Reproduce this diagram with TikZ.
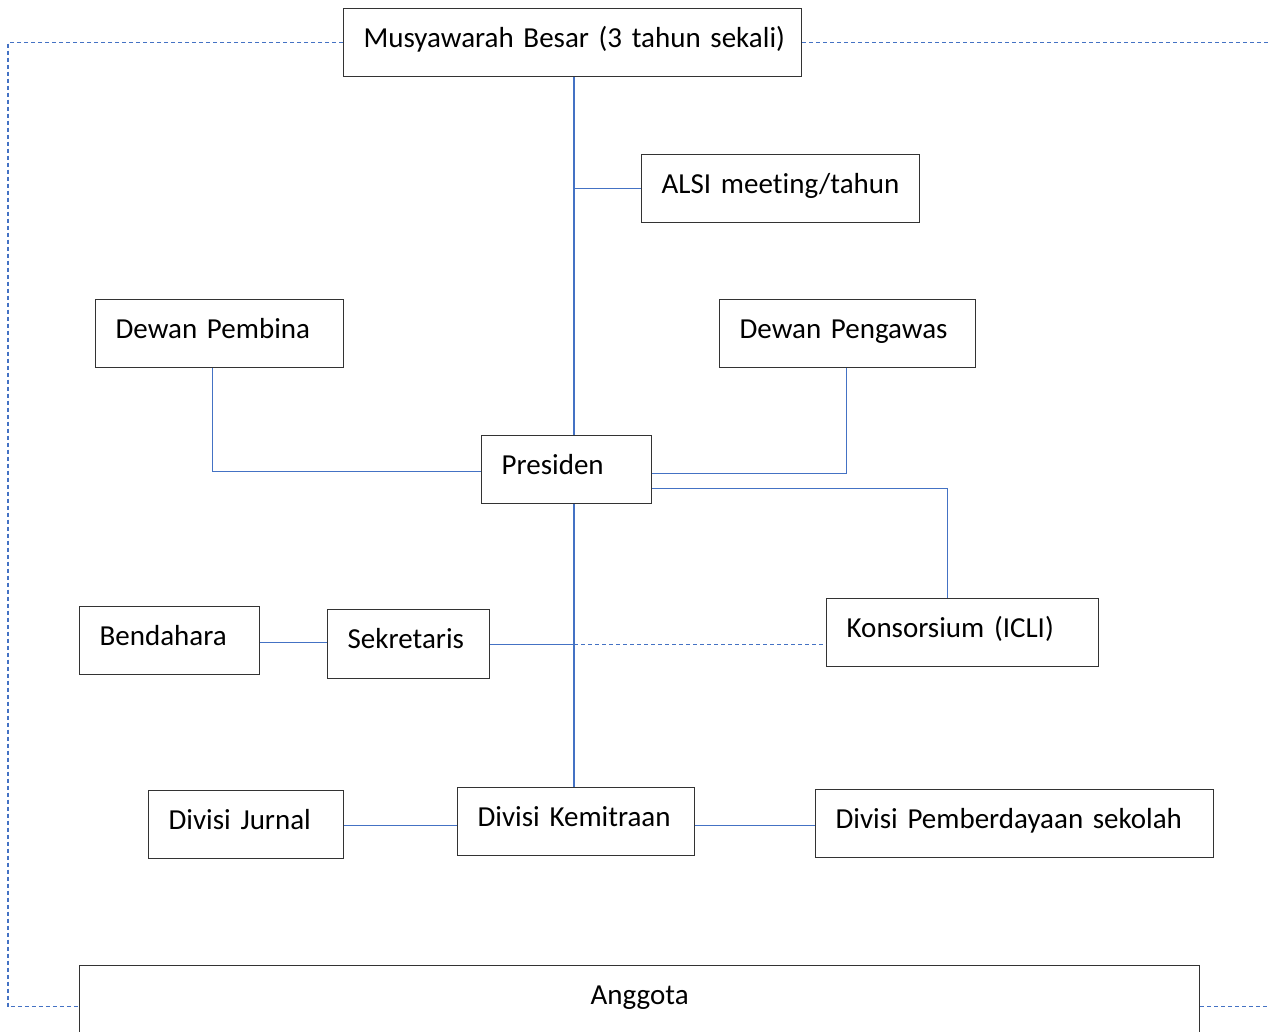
\documentclass[tikz,border=0pt]{standalone}
\usepackage{fontspec}
\setmainfont{Carlito}
\newfontfamily\boxfont{Carlito}[RawFeature={-liga;-clig;-calt;-dlig}, WordSpace={0.8}]
\begin{document}
\begin{tikzpicture}[x=1pt,y=-1pt,
  box/.style={draw=black!80, line width=1.3pt, rectangle, anchor=north west,
    inner xsep=20pt, inner ysep=0pt, text height=21pt, text depth=12pt,
    minimum height=68pt, align=left, font=\boxfont\fontsize{29}{32}\selectfont},
  link/.style={draw={rgb,255:red,68;green,114;blue,196}, line width=1.2pt},
  dlink/.style={link, line width=1.1pt, dash pattern=on 4pt off 3pt}]
\clip (0,0) rectangle (1268,1032);
\fill[white] (0,0) rectangle (1268,1032);
% boxes
\node[box, minimum width=458pt, text width=418pt] (mus) at (343,8) {\mbox{Musyawarah Besar (3 tahun sekali)}};
\node[box, minimum width=278pt, text width=238pt] (alsi) at (641,154) {ALSI mee\kern0pt ting/tahun};
\node[box, minimum width=248pt, text width=208pt] (pem) at (95,299) {Dewan Pembina};
\node[box, minimum width=256pt, text width=216pt] (peng) at (719,299) {Dewan Pengawas};
\node[box, minimum width=170pt, text width=130pt] (pres) at (481,435) {Presiden};
\node[box, minimum width=180pt, text width=140pt] (ben) at (79,606) {Bendahara};
\node[box, minimum width=162pt, text width=122pt, minimum height=69pt] (sek) at (327,609) {Sekretaris};
\node[box, minimum width=272pt, text width=232pt] (kon) at (826,598) {Konsorsium (ICLI)};
\node[box, minimum width=195pt, text width=155pt] (jur) at (148,790) {Divisi Jurnal};
\node[box, minimum width=237pt, text width=197pt] (kem) at (457,787) {Divisi Kemitraan};
\node[box, minimum width=398pt, text width=358pt] (pemb) at (815,789) {\mbox{Divisi Pemberdayaan sekolah}};
\node[box, minimum width=1120pt, text width=1080pt, minimum height=82pt, text depth=25pt, align=center] (ang) at (79,965) {Anggota};
% helper coordinates
\coordinate (sp) at (574,0);
\coordinate (lft) at (8,0);
\coordinate (rgt) at (1275,0);
% connectors
\draw[link] (mus.south -| sp) -- (pres.north -| sp);
\draw[link] (alsi.west) -- (alsi.west -| sp);
\draw[link] ([xshift=-7pt]pem.south) |- ([yshift=-2pt]pres.west);
\draw[link] ([xshift=-1pt]peng.south) |- ([yshift=-4pt]pres.east);
\draw[link] ([yshift=-19pt]pres.east) -| ([xshift=-15pt]kon.north);
\draw[link] (pres.south -| sp) -- (kem.north -| sp);
\draw[link] (sek.east) -- (sek.east -| sp);
\draw[dlink] (sek.east -| sp) -- (kon.west |- sek.east);
\draw[link] ([yshift=-2pt]ben.east) -- ([yshift=-2pt]sek.west |- ben.east);
\draw[link] ([yshift=-1pt]jur.east) -- ([yshift=-1pt]kem.west |- jur.east);
\draw[link] ([yshift=-4pt]kem.east) -- ([yshift=-4pt]pemb.west |- kem.east);
\draw[dlink] (mus.west) -- (mus.west -| lft) -- (ang.west -| lft) -- (ang.west);
\draw[dlink] (mus.east) -- (mus.east -| rgt);
\draw[dlink] (ang.east) -- (ang.east -| rgt);
\end{tikzpicture}
\end{document}
